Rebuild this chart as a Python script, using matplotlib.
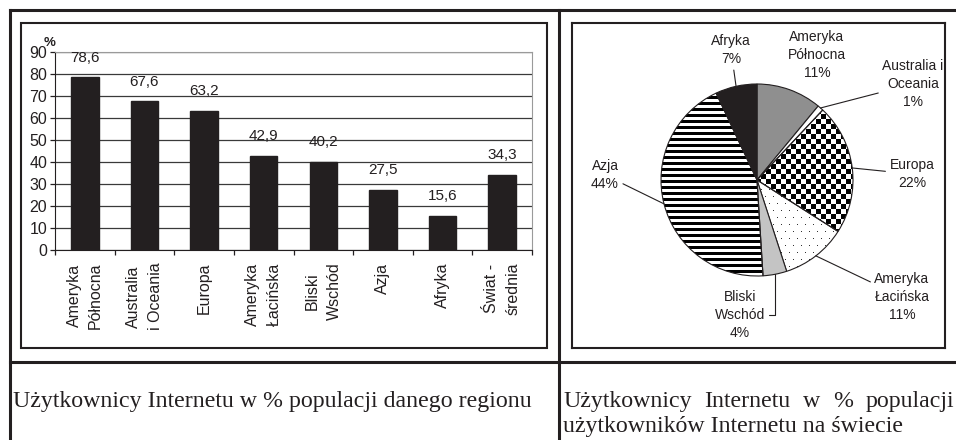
import numpy as np
import matplotlib
matplotlib.use('Agg')
import matplotlib.pyplot as plt
from matplotlib.patches import Rectangle
from matplotlib.lines import Line2D

# bar chart: internet users as % of the region's population
regions = ['Ameryka\nPółnocna', 'Australia\ni Oceania', 'Europa', 'Ameryka\nŁacińska',
           'Bliski\nWschód', 'Azja', 'Afryka', 'Świat -\nśrednia']
penetration = [78.6, 67.6, 63.2, 42.9, 40.2, 27.5, 15.6, 34.3]

# pie chart: share of the world's internet users
pie_labels = ['Ameryka\nPółnocna', 'Australia i\nOceania', 'Europa', 'Ameryka\nŁacińska',
              'Bliski\nWschód', 'Azja', 'Afryka']
pie_share = [11, 1, 22, 11, 4, 44, 7]

caption_left = 'Użytkownicy Internetu w % populacji danego regionu'
caption_right_1 = 'Użytkownicy Internetu w % populacji'
caption_right_2 = 'użytkowników Internetu na świecie'

W, H = 956, 440
DARK = '#231f20'
SANS = 'Liberation Sans'
SERIF = 'Liberation Serif'


def fx(px):
    return px / W


def fy(py):
    return 1 - py / H


fig = plt.figure(figsize=(W / 100, H / 100), dpi=100)

# table lines
for xs, ys in [((10, 956), (10, 10)), ((10, 956), (362, 362)),
               ((10, 10), (10, 440)), ((559, 559), (10, 440))]:
    fig.add_artist(Line2D([fx(xs[0]), fx(xs[1])], [fy(ys[0]), fy(ys[1])],
                          color=DARK, lw=2.2, transform=fig.transFigure))

# frame around the bar chart
fig.add_artist(Rectangle((fx(21), fy(348)), fx(547) - fx(21), fy(23) - fy(348),
                         transform=fig.transFigure, fill=False, ec=DARK, lw=1.5))

# ---------------- bar chart ----------------
ax = fig.add_axes([fx(55), fy(250), fx(532) - fx(55), fy(52) - fy(250)])
x = np.arange(len(regions))
ax.bar(x, penetration, width=0.46, color=DARK, edgecolor=DARK, zorder=3)
for xi, v in zip(x, penetration):
    ax.annotate(f'{v:.1f}'.replace('.', ','), (xi, v), xytext=(0, 9),
                textcoords='offset points', ha='center', va='bottom',
                fontsize=11, family=SANS, color=DARK)
ax.set_xlim(-0.5, len(regions) - 0.5)
ax.set_ylim(0, 90)
ax.set_yticks(np.arange(0, 91, 10))
ax.yaxis.grid(True, color='#3a3a3a', lw=0.9, zorder=0)
ax.set_xticks(x)
ax.set_xticklabels(regions, rotation=90, fontsize=11.5, family=SANS,
                   linespacing=1.55, color=DARK)
ax.set_xticks(np.arange(-0.5, len(regions)), minor=True)
ax.tick_params(axis='x', which='major', length=0, pad=9)
ax.tick_params(axis='x', which='minor', length=3.6, width=0.9, color=DARK)
ax.tick_params(axis='y', length=3.6, width=0.9, pad=2, labelsize=11.5, colors=DARK)
for lab in ax.get_yticklabels():
    lab.set_family(SANS)
ax.spines['left'].set_color(DARK)
ax.spines['bottom'].set_color(DARK)
ax.spines['top'].set_color('#9a9a9a')
ax.spines['right'].set_color('#9a9a9a')
fig.text(fx(50), fy(43), '%', ha='center', va='center', fontsize=9.5,
         fontweight='bold', family=SANS, color=DARK)

# ---------------- pie chart ----------------
R = 96  # pie radius in pixels
cx, cy = 757, 180
pax = fig.add_axes([fx(572), fy(348), fx(945) - fx(572), fy(23) - fy(348)])
faces = ['#8f8f8f', 'white', 'none', 'none', '#c4c4c4', 'none', DARK]
wedges, _ = pax.pie(pie_share, startangle=90, counterclock=False, colors=faces,
                    wedgeprops=dict(edgecolor=DARK, linewidth=0.8), frame=True)

# fill patterns (checker, dots, stripes) as images clipped to wedges
n = 2 * R
yy, xx = np.mgrid[0:n, 0:n]
checker = ((yy // 5 + xx // 5) % 2).astype(float)
stripes = ((yy % 6) >= 3).astype(float)
dots = np.ones((n, n))
dots[(yy % 14 == 0) & (xx % 8 == 0)] = 0.2
dots[(yy % 14 == 7) & (xx % 8 == 4)] = 0.2
for idx, pat in [(2, checker), (3, dots), (5, stripes)]:
    im = pax.imshow(pat, cmap='gray', vmin=0, vmax=1, extent=(-1, 1, -1, 1),
                    interpolation='nearest', aspect='auto', zorder=0.5)
    im.set_clip_path(wedges[idx])

# label positions in pixels (layout only)
label_px = [(817, 55), (913, 84), (912, 174), (902, 297), (740, 315), (605, 175), (731, 50)]
for i, (w, lab, share, (px, py)) in enumerate(zip(wedges, pie_labels, pie_share, label_px)):
    mid = np.deg2rad((w.theta1 + w.theta2) / 2)
    tip = (np.cos(mid), np.sin(mid))
    pos = ((px - cx) / R, (cy - py) / R)
    if i == 0:
        arrow = None
    elif i == 4:
        arrow = dict(arrowstyle='-', color=DARK, lw=0.8, shrinkA=1, shrinkB=0,
                     connectionstyle='angle,angleA=0,angleB=90,rad=0')
    else:
        arrow = dict(arrowstyle='-', color=DARK, lw=0.8, shrinkA=1, shrinkB=0)
    pax.annotate(f'{lab}\n{share}%', xy=tip, xytext=pos, ha='center', va='center',
                 fontsize=10, family=SANS, color=DARK, linespacing=1.35,
                 arrowprops=arrow)

pax.set_aspect('auto')
pax.set_xlim((572 - cx) / R, (945 - cx) / R)
pax.set_ylim((cy - 348) / R, (cy - 23) / R)
pax.set_xticks([])
pax.set_yticks([])
pax.set_frame_on(True)
for sp in pax.spines.values():
    sp.set_visible(True)
    sp.set_color(DARK)
    sp.set_linewidth(1.5)

# ---------------- captions ----------------
CAP = 17.2
fig.text(fx(13), fy(407), caption_left, family=SERIF, fontsize=CAP, color=DARK,
         ha='left', va='baseline')

renderer = fig.canvas.get_renderer()
words = caption_right_1.split()
objs = [fig.text(0, fy(407), wd, family=SERIF, fontsize=CAP, color=DARK,
                 ha='left', va='baseline') for wd in words]
widths = [o.get_window_extent(renderer).width for o in objs]
x0, x1 = 563, 954
gap = (x1 - x0 - sum(widths)) / (len(words) - 1)
cur = x0
for o, wd in zip(objs, widths):
    o.set_x(fx(cur))
    cur += wd + gap
fig.text(fx(563), fy(432), caption_right_2, family=SERIF, fontsize=CAP, color=DARK,
         ha='left', va='baseline')

fig.savefig('out.png', dpi=100)
